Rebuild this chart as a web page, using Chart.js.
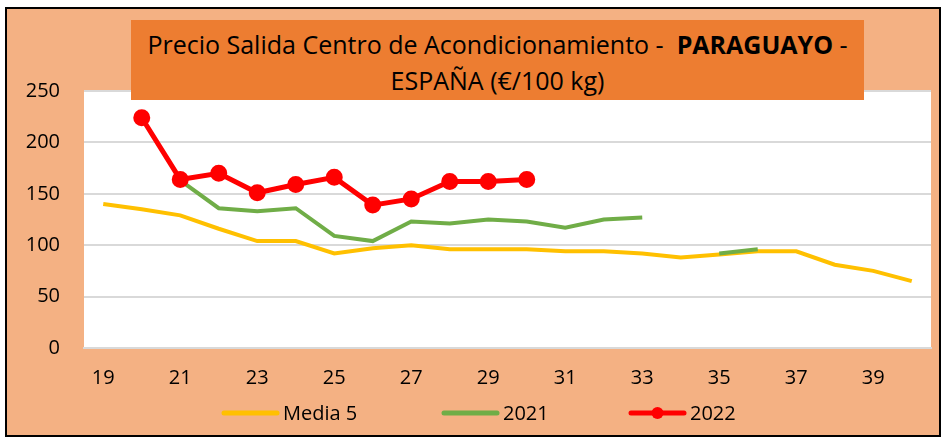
<!DOCTYPE html>
<html>
<head>
<meta charset="utf-8">
<script src="https://cdn.jsdelivr.net/npm/chart.js@4.4.1/dist/chart.umd.min.js"></script>
<style>
  html, body { margin:0; padding:0; background:#ffffff; }
  #wrap { position:relative; width:945px; height:439px; }
  #c { position:absolute; left:0; top:0; }
  #title {
    position:absolute; left:131px; top:20px; width:733px; height:80px;
    background:#ED7D31; color:#000; font-family:"Open Sans", Lato, sans-serif;
    font-size:25px; line-height:36px; text-align:center; padding-top:6px; box-sizing:border-box;
    white-space:nowrap;
  }
</style>
</head>
<body>
<div id="wrap">
  <canvas id="c" width="945" height="439"></canvas>
  <div id="title">Precio Salida Centro de Acondicionamiento -&nbsp; <b>PARAGUAYO</b> -<br>ESPAÑA (€/100 kg)</div>
</div>
<script>
const weeks = ['19','20','21','22','23','24','25','26','27','28','29','30','31','32','33','34','35','36','37','38','39','40'];
const media5 = [140,135,129,116,104,104,92,97,100,96,96,96,94,94,92,88,91,94,94,81,75,65];
const y2021 = [null,null,163,136,133,136,109,104,123,121,125,123,117,125,127,null,92,96,null,null,null,null];
const y2022 = [null,224,164,170,151,159,166,139,145,162,162,164,null,null,null,null,null,null,null,null,null,null];
const yTicks = [0,50,100,150,200,250];

const FONT = '"Open Sans", Lato, sans-serif';

const bgPlugin = {
  id: 'bg',
  beforeDraw(chart) {
    const ctx = chart.ctx, a = chart.chartArea;
    ctx.save();
    ctx.fillStyle = '#ffffff';
    ctx.fillRect(0, 0, chart.width, chart.height);
    ctx.fillStyle = '#F4B183';
    ctx.fillRect(6, 8, 934, 428);
    ctx.strokeStyle = '#000000';
    ctx.lineWidth = 2;
    ctx.strokeRect(6, 8, 934, 428);
    ctx.fillStyle = '#ffffff';
    ctx.fillRect(a.left, a.top, a.right - a.left, a.bottom - a.top);
    ctx.restore();
  }
};

const legendPlugin = {
  id: 'customLegend',
  afterDraw(chart) {
    const ctx = chart.ctx;
    const y = 413;
    const items = [
      { ds: 0, x0: 224, x1: 277, tx: 283 },
      { ds: 1, x0: 444, x1: 497, tx: 503 },
      { ds: 2, x0: 631, x1: 684, tx: 690 }
    ];
    ctx.save();
    items.forEach(it => {
      const d = chart.data.datasets[it.ds];
      ctx.strokeStyle = d.borderColor;
      ctx.lineWidth = 5;
      ctx.lineCap = 'round';
      ctx.beginPath();
      ctx.moveTo(it.x0, y);
      ctx.lineTo(it.x1, y);
      ctx.stroke();
      if (d.pointRadius > 0) {
        ctx.fillStyle = d.pointBackgroundColor;
        ctx.beginPath();
        ctx.arc((it.x0 + it.x1) / 2, y, 6, 0, Math.PI * 2);
        ctx.fill();
      }
      ctx.fillStyle = '#000000';
      ctx.font = '20px ' + FONT;
      ctx.textBaseline = 'middle';
      ctx.textAlign = 'left';
      ctx.fillText(d.label, it.tx, y + 1);
    });
    ctx.restore();
  }
};

new Chart(document.getElementById('c'), {
  type: 'line',
  data: {
    labels: weeks,
    datasets: [
      { label: 'Media 5', data: media5, borderColor: '#FFC000', backgroundColor: '#FFC000',
        borderWidth: 4, pointRadius: 0, tension: 0, order: 3, spanGaps: false },
      { label: '2021', data: y2021, borderColor: '#70AD47', backgroundColor: '#70AD47',
        borderWidth: 4, pointRadius: 0, tension: 0, order: 2, spanGaps: false },
      { label: '2022', data: y2022, borderColor: '#FF0000', backgroundColor: '#FF0000',
        pointBackgroundColor: '#FF0000', pointBorderColor: '#FF0000',
        borderWidth: 5, pointRadius: 6, pointHoverRadius: 6, tension: 0, order: 1, spanGaps: false }
    ]
  },
  options: {
    responsive: false,
    animation: false,
    events: [],
    layout: { padding: { left: 0, top: 91, right: 14, bottom: 0 } },
    plugins: { legend: { display: false }, title: { display: false }, tooltip: { enabled: false } },
    scales: {
      x: {
        offset: true,
        grid: { display: false, drawTicks: false },
        border: { display: true, color: '#D9D9D9', width: 2 },
        ticks: {
          autoSkip: false, maxRotation: 0, padding: 18, color: '#000000',
          font: { family: FONT, size: 20 },
          callback: function(v, i) { return i % 2 === 0 ? weeks[i] : ''; }
        },
        afterFit(scale) { scale.height = 91; }
      },
      y: {
        min: 0, max: 250,
        afterBuildTicks(scale) { scale.ticks = yTicks.map(v => ({ value: v })); },
        grid: { color: '#D9D9D9', lineWidth: 2, drawTicks: false },
        border: { display: false },
        ticks: { padding: 24, color: '#000000', font: { family: FONT, size: 20 } },
        afterFit(scale) { scale.width = 84; }
      }
    }
  },
  plugins: [bgPlugin, legendPlugin]
});
</script>
</body>
</html>
